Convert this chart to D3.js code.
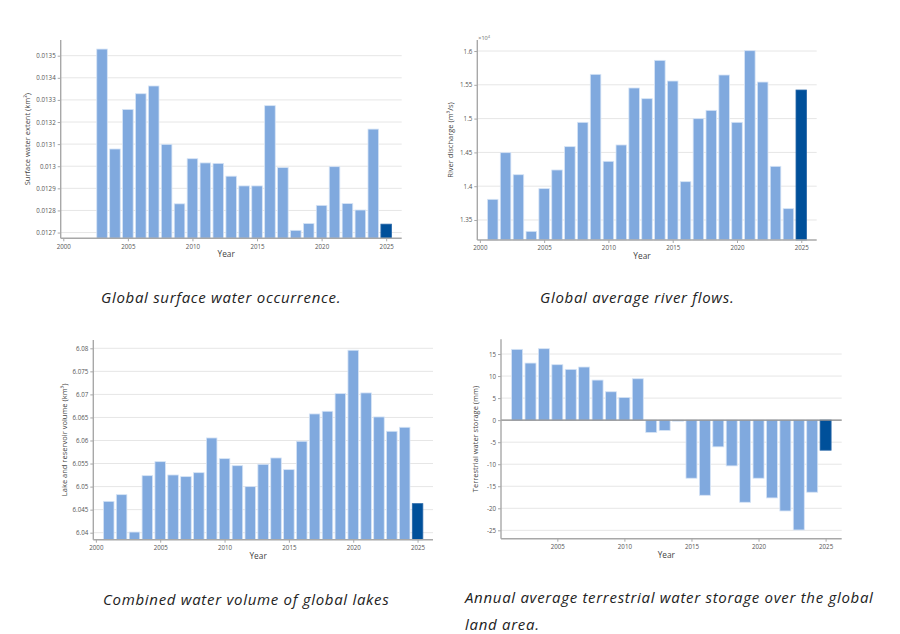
<!DOCTYPE html>
<html>
<head>
<meta charset="utf-8">
<script src="https://cdn.jsdelivr.net/npm/d3@7"></script>
<style>
  html, body { margin: 0; padding: 0; background: #fff; }
  svg { display: block; }
  .tick text { font-family: "Open Sans", sans-serif; }
</style>
</head>
<body>
<svg id="chart" width="900" height="634"></svg>
<script>
(function () {
  const BAR_FILL = '#80a9de';
  const BAR_LAST = '#00509a';
  const BAR_STROKE = '#d6e4f6';
  const GRID = '#e6e6e6';
  const AXIS = '#a8a8a8';

  // data
  const years = d3.range(2001, 2026);

  const surfaceYears = d3.range(2003, 2026);
  const surfaceExtent = [
    0.01353, 0.013078, 0.013257, 0.013328, 0.013363, 0.013099, 0.01283, 0.013034,
    0.013015, 0.013013, 0.012955, 0.012911, 0.012911, 0.013274, 0.012994, 0.01271,
    0.012741, 0.012823, 0.012998, 0.012831, 0.012802, 0.013168, 0.012738
  ];

  const riverDischarge = [
    13806, 14496, 14170, 13332, 13964, 14240, 14585, 14945, 15655, 14368,
    14610, 15453, 15295, 15862, 15556, 14067, 14999, 15122, 15645, 14945,
    16005, 15541, 14294, 13668, 15423
  ];

  const lakeVolume = [
    6.0468, 6.04825, 6.04014, 6.05237, 6.05541, 6.05252, 6.05216, 6.05302, 6.06055, 6.05606,
    6.05454, 6.04999, 6.05483, 6.05621, 6.05368, 6.05983, 6.06576, 6.06634, 6.07017, 6.07958,
    6.07032, 6.06511, 6.062, 6.06287, 6.0463
  ];

  const storageYears = d3.range(2002, 2026);
  const waterStorage = [
    16.06, 12.95, 16.21, 12.58, 11.52, 12.05, 9.09, 6.44, 5.15, 9.39,
    -2.8, -2.35, -0.23, -13.18, -17.05, -6.06, -10.38, -18.64, -13.18, -17.65,
    -20.61, -24.92, -16.36, -6.82
  ];

  const surfaceTicks = [0.0127, 0.0128, 0.0129, 0.013, 0.0131, 0.0132, 0.0133, 0.0134, 0.0135];
  const riverTicks = [13500, 14000, 14500, 15000, 15500, 16000];
  const lakeTicks = [6.04, 6.045, 6.05, 6.055, 6.06, 6.065, 6.07, 6.075, 6.08];
  const storageTicks = [-25, -20, -15, -10, -5, 0, 5, 10, 15];
  const yearTicks = [2000, 2005, 2010, 2015, 2020, 2025];
  const storageYearTicks = [2005, 2010, 2015, 2020, 2025];

  const captions = [
    ['Global surface water occurrence.'],
    ['Global average river flows.'],
    ['Combined water volume of global lakes'],
    ['Annual average terrestrial water storage over the global', 'land area.']
  ];

  const paneles = [
    {
      xs: surfaceYears, vals: surfaceExtent,
      box: { l: 60.7, r: 401.7, t: 40, b: 238.3 },
      xDom: [1999.8, 2026.2], yDom: [0.012674, 0.013571],
      yTicks: surfaceTicks, xTicks: yearTicks, fmt: (d) => String(d),
      yTitle: 'Surface water extent (km²)', yTitleX: 30,
      cap: captions[0], capX: 101, capY: 303
    },
    {
      xs: years, vals: riverDischarge,
      box: { l: 477.3, r: 816.7, t: 40, b: 240 },
      xDom: [1999.8, 2026.2], yDom: [13204, 16163],
      yTicks: riverTicks, xTicks: yearTicks, fmt: (d) => String(d / 1e4),
      yTitle: 'River discharge (m³/s)', yTitleX: 453, exponent: true,
      cap: captions[1], capX: 540, capY: 303
    },
    {
      xs: years, vals: lakeVolume,
      box: { l: 93.3, r: 433, t: 340, b: 539.7 },
      xDom: [1999.8, 2026.2], yDom: [6.03848, 6.0818],
      yTicks: lakeTicks, xTicks: yearTicks, fmt: (d) => String(d),
      yTitle: 'Lake and reservoir volume (km³)', yTitleX: 67,
      cap: captions[2], capX: 103, capY: 605
    },
    {
      xs: storageYears, vals: waterStorage,
      box: { l: 501, r: 841.7, t: 339.3, b: 538.7 },
      xDom: [2000.8, 2026.2], yDom: [-26.9, 18.34], zero: true,
      yTicks: storageTicks, xTicks: storageYearTicks, fmt: (d) => String(d),
      yTitle: 'Terrestrial water storage (mm)', yTitleX: 478,
      cap: captions[3], capX: 465, capY: 603
    }
  ];

  const svg = d3.select('#chart');

  function dibujarPanel(p) {
    const { l, r, t, b } = p.box;
    const x = d3.scaleLinear().domain(p.xDom).range([l, r]);
    const y = d3.scaleLinear().domain(p.yDom).range([b, t]);
    const g = svg.append('g');
    const ancho = (x(1) - x(0)) * 0.82;

    // gridlines
    g.append('g')
      .selectAll('line')
      .data(p.yTicks)
      .join('line')
      .attr('x1', l).attr('x2', r)
      .attr('y1', (d) => y(d)).attr('y2', (d) => y(d))
      .attr('stroke', GRID)
      .attr('stroke-width', 1);

    // bars
    const base = p.zero ? y(0) : b;
    const ultimo = p.xs[p.xs.length - 1];
    g.append('g')
      .selectAll('rect')
      .data(p.xs.map((yr, i) => ({ yr, v: p.vals[i] })))
      .join('rect')
      .attr('x', (d) => x(d.yr) - ancho / 2)
      .attr('width', ancho)
      .attr('y', (d) => Math.min(y(d.v), base))
      .attr('height', (d) => Math.abs(base - y(d.v)))
      .attr('fill', (d) => (d.yr === ultimo ? BAR_LAST : BAR_FILL))
      .attr('stroke', (d) => (d.yr === ultimo ? '#2a68a8' : BAR_STROKE))
      .attr('stroke-width', 0.8);

    if (p.zero) {
      g.append('line')
        .attr('x1', l).attr('x2', r)
        .attr('y1', y(0)).attr('y2', y(0))
        .attr('stroke', '#8a8a8a')
        .attr('stroke-width', 1.2);
    }

    // axes
    const ejeY = g.append('g')
      .attr('transform', `translate(${l},0)`)
      .call(d3.axisLeft(y).tickValues(p.yTicks).tickFormat(p.fmt).tickSize(3).tickPadding(2).tickSizeOuter(0));
    const ejeX = g.append('g')
      .attr('transform', `translate(0,${b})`)
      .call(d3.axisBottom(x).tickValues(p.xTicks).tickFormat(d3.format('d')).tickSize(3).tickPadding(3).tickSizeOuter(0));

    [ejeY, ejeX].forEach((eje) => {
      eje.select('.domain').attr('stroke', AXIS).attr('stroke-width', 1.4);
      eje.selectAll('.tick line').attr('stroke', AXIS);
      eje.selectAll('.tick text').attr('fill', '#555').attr('font-size', 6.2);
    });
    ejeX.select('.domain').attr('d', `M${l},0H${r}`);
    ejeY.select('.domain').attr('d', `M0,${b}V${t}`);

    if (p.exponent) {
      g.append('text')
        .attr('x', l + 1).attr('y', t)
        .attr('font-family', 'Open Sans, sans-serif')
        .attr('font-size', 5.5)
        .attr('fill', '#666')
        .html('×10<tspan dy="-2" font-size="4">4</tspan>');
    }

    // axis titles
    g.append('text')
      .attr('x', (l + r) / 2 - 5)
      .attr('y', b + 19)
      .attr('text-anchor', 'middle')
      .attr('font-family', 'Open Sans, sans-serif')
      .attr('font-size', 8.3)
      .attr('fill', '#444')
      .text('Year');

    g.append('text')
      .attr('transform', `translate(${p.yTitleX},${(t + b) / 2}) rotate(-90)`)
      .attr('text-anchor', 'middle')
      .attr('font-family', 'Open Sans, sans-serif')
      .attr('font-size', 7.5)
      .attr('fill', '#444')
      .text(p.yTitle);

    // caption
    const cap = svg.append('text')
      .attr('font-family', 'Open Sans, sans-serif')
      .attr('font-style', 'italic')
      .attr('font-size', 15)
      .attr('letter-spacing', 0.7)
      .attr('fill', '#222');
    p.cap.forEach((linea, i) => {
      cap.append('tspan')
        .attr('x', p.capX)
        .attr('y', p.capY + i * 27)
        .text(linea);
    });
  }

  paneles.forEach(dibujarPanel);
})();
</script>
</body>
</html>
